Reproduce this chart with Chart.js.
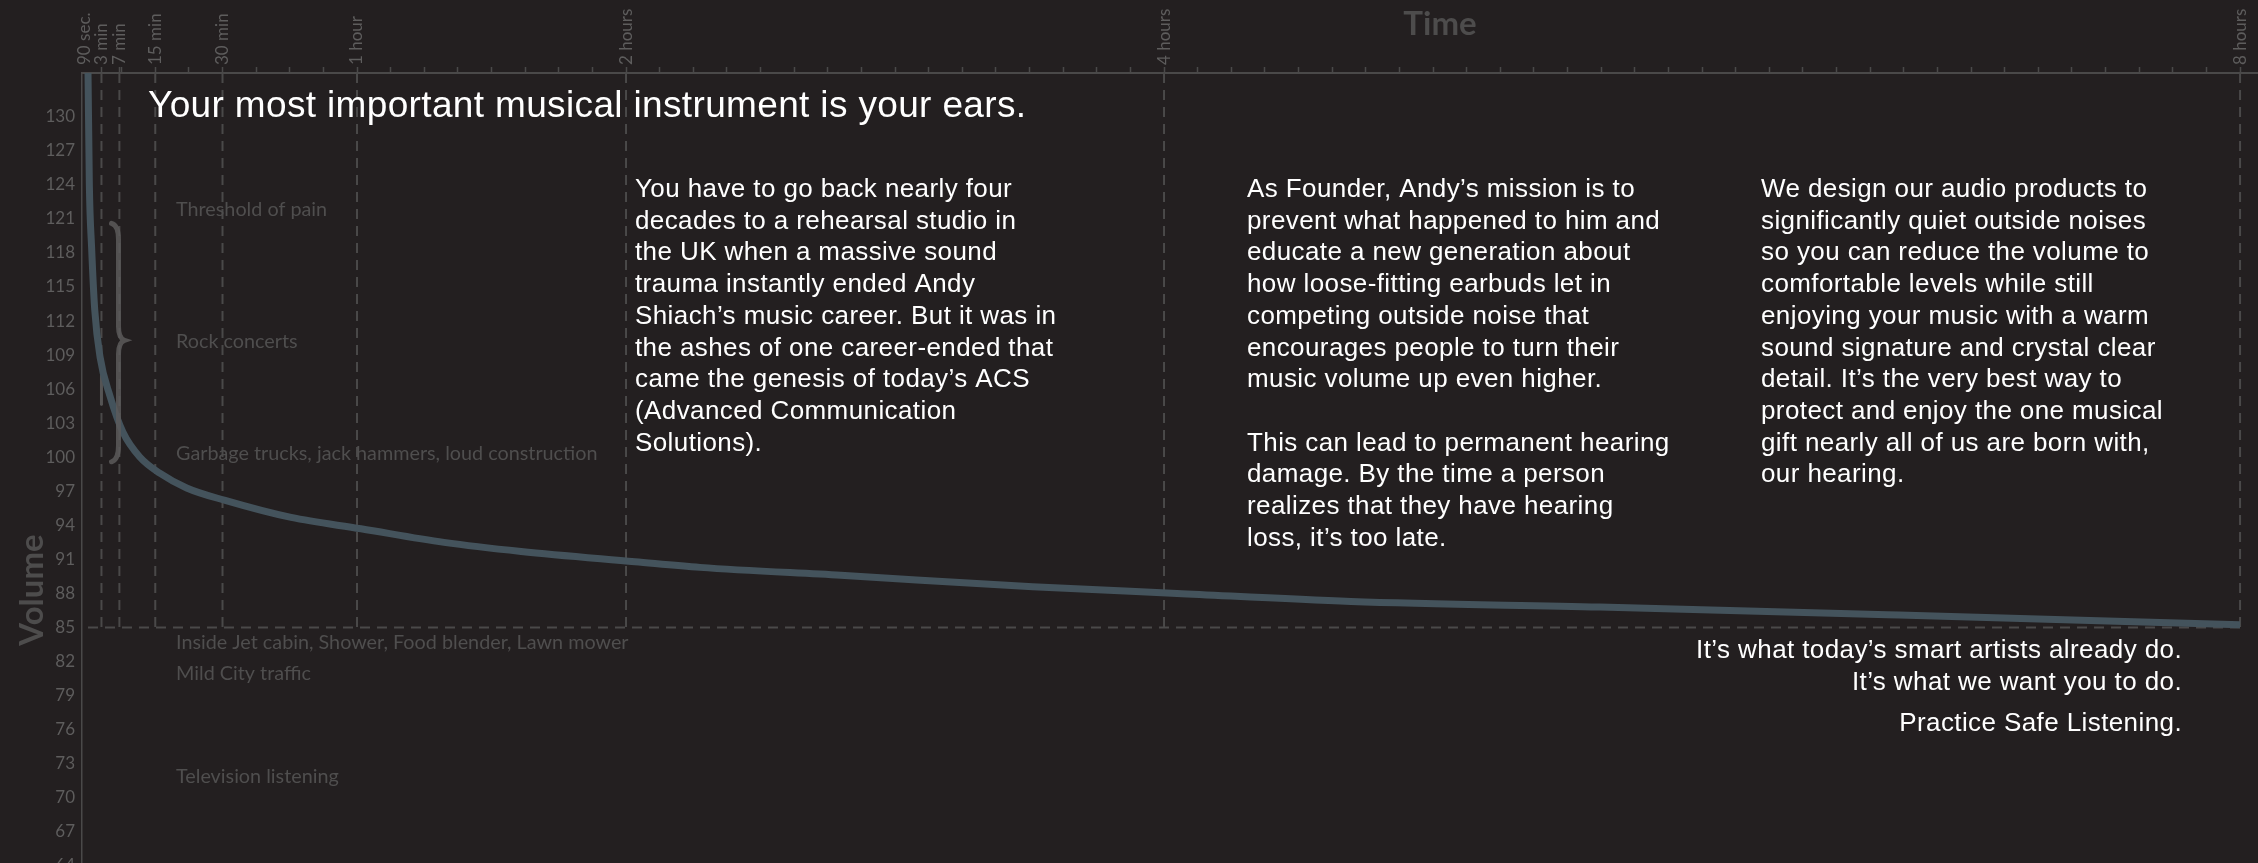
<!DOCTYPE html>
<html>
<head>
<meta charset="utf-8">
<title>Practice Safe Listening</title>
<script src="https://cdn.jsdelivr.net/npm/chart.js@4.4.1/dist/chart.umd.min.js"></script>
<style>
    html, body { margin: 0; padding: 0; background: #231f20; overflow: hidden; }
    #wrap { position: relative; width: 2258px; height: 863px; overflow: hidden; }
</style>
</head>
<body>
<div id="wrap"><canvas id="chart" width="2258" height="900"></canvas></div>
<script>
// Safe listening curve: minutes of exposure vs volume (dB)
const curveMinutes = [0, 0.3, 0.8, 1.5, 2.7, 4.9, 7.8, 11.6, 16, 22, 30.6, 45.3, 60.9, 79.4, 96.6, 122, 136.5, 167.9, 210.7, 242.9, 281.7, 337.2, 404, 480];
const curveVolume  = [134, 124, 118.5, 113, 108.8, 105.4, 102.2, 100.0, 98.6, 97.3, 96.2, 94.7, 93.7, 92.5, 91.7, 90.8, 90.3, 89.6, 88.6, 88.0, 87.3, 86.8, 86.1, 85.25];

// Time markers on the top axis
const markerMinutes = [3, 7, 15, 30, 60, 120, 240, 480];
const markerLabels = [['90 sec.', '3 min'], '7 min', '15 min', '30 min', '1 hour', '2 hours', '4 hours', '8 hours'];
const minorStep = 7.5;

// Volume axis
const volumeTicks = [64, 67, 70, 73, 76, 79, 82, 85, 88, 91, 94, 97, 100, 103, 106, 109, 112, 115, 118, 121, 124, 127, 130];
const safeVolume = 85;

// Everyday noise levels
const levelNames = ['Threshold of pain', 'Rock concerts', 'Garbage trucks, jack hammers, loud construction',
    'Inside Jet cabin, Shower, Food blender, Lawn mower', 'Mild City traffic', 'Television listening'];
const levelVolume = [121.8, 110.2, 100.3, 83.7, 80.9, 71.9];

// Copy
const headline = 'Your most important musical instrument is your ears.';
const column1 = [
    'You have to go back nearly four',
    'decades to a rehearsal studio in',
    'the UK when a massive sound',
    'trauma instantly ended Andy',
    'Shiach’s music career. But it was in',
    'the ashes of one career-ended that',
    'came the genesis of today’s ACS',
    '(Advanced Communication',
    'Solutions).'
];
const column2 = [
    'As Founder, Andy’s mission is to',
    'prevent what happened to him and',
    'educate a new generation about',
    'how loose-fitting earbuds let in',
    'competing outside noise that',
    'encourages people to turn their',
    'music volume up even higher.',
    '',
    'This can lead to permanent hearing',
    'damage. By the time a person',
    'realizes that they have hearing',
    'loss, it’s too late.'
];
const column3 = [
    'We design our audio products to',
    'significantly quiet outside noises',
    'so you can reduce the volume to',
    'comfortable levels while still',
    'enjoying your music with a warm',
    'sound signature and crystal clear',
    'detail. It’s the very best way to',
    'protect and enjoy the one musical',
    'gift nearly all of us are born with,',
    'our hearing.'
];
const closing = ['It’s what today’s smart artists already do.', 'It’s what we want you to do.'];
const slogan = 'Practice Safe Listening.';

const X_MIN = -1.34;
const X_MAX = 484;
const Y_MIN = 61;
const Y_MAX = 133.85;

const GRID = '#4a4949';
const TICK_TEXT = '#5e5d5d';
const LABEL_TEXT = '#4f4e4e';
const CURVE = '#44535c';
const sans = '"Liberation Sans", Arial, sans-serif';
const soft = 'Lato, "Open Sans", sans-serif';
const TICK_FONT = 17;

// tick positions: labelled markers plus minor marks every 7.5 min
const tickValues = markerMinutes.slice();
for (let m = minorStep; m < 480; m += minorStep) {
    if (!markerMinutes.includes(m)) tickValues.push(m);
}
tickValues.sort((a, b) => a - b);

const datasets = [{
    label: 'Safe exposure',
    data: curveMinutes.map((m, i) => ({ x: m, y: curveVolume[i] })),
    borderColor: CURVE,
    borderWidth: 7,
    pointRadius: 0,
    cubicInterpolationMode: 'monotone',
    order: 0
}];

markerMinutes.forEach(m => {
    datasets.push({
        label: 'marker ' + m,
        data: [{ x: m, y: Y_MAX }, { x: m, y: safeVolume }],
        borderColor: GRID,
        borderWidth: 2,
        borderDash: [10, 7],
        pointRadius: 0,
        order: 2
    });
});

datasets.push({
    label: '85 dB',
    data: [{ x: 0, y: safeVolume }, { x: 480, y: safeVolume }],
    borderColor: GRID,
    borderWidth: 2,
    borderDash: [10, 7],
    pointRadius: 0,
    order: 2
});

datasets.push({
    label: 'highlight',
    data: [{ x: 3, y: 107.3 }, { x: 3, y: 104.6 }],
    borderColor: '#555454',
    borderWidth: 3,
    pointRadius: 0,
    order: 1
});

function drawLines(ctx, lines, x, y, step) {
    lines.forEach((line, i) => ctx.fillText(line, x, y + i * step));
}

const decor = {
    id: 'decor',
    afterDatasetsDraw(chart) {
        const { ctx, scales: { x, y } } = chart;
        // curly brace around the loud range
        const sx = x.getPixelForValue(3) + (x.getPixelForValue(7) - x.getPixelForValue(3)) * 0.95;
        const top = y.getPixelForValue(120.6);
        const mid = y.getPixelForValue(110.3);
        const bot = y.getPixelForValue(99.6);
        ctx.save();
        ctx.strokeStyle = 'rgba(92, 91, 91, 0.85)';
        ctx.lineWidth = 5;
        ctx.lineCap = 'round';
        ctx.beginPath();
        ctx.moveTo(sx - 7, top);
        ctx.quadraticCurveTo(sx, top + 2, sx, top + 16);
        ctx.lineTo(sx, mid - 14);
        ctx.quadraticCurveTo(sx, mid - 2, sx + 6, mid);
        ctx.quadraticCurveTo(sx, mid + 2, sx, mid + 14);
        ctx.lineTo(sx, bot - 16);
        ctx.quadraticCurveTo(sx, bot - 2, sx - 7, bot);
        ctx.stroke();
        ctx.restore();
    },
    afterDraw(chart) {
        const { ctx, chartArea, scales: { y } } = chart;
        ctx.save();

        // noise level labels
        ctx.fillStyle = LABEL_TEXT;
        ctx.font = '19.8px ' + soft;
        ctx.textBaseline = 'middle';
        ctx.textAlign = 'left';
        levelNames.forEach((name, i) => {
            ctx.fillText(name, chartArea.left + 94, y.getPixelForValue(levelVolume[i]));
        });

        // axis titles
        ctx.fillStyle = '#4d4c4c';
        ctx.font = 'bold 33px ' + soft;
        ctx.textAlign = 'center';
        ctx.fillText('Time', 1440, 24);
        ctx.save();
        ctx.translate(32, 590);
        ctx.rotate(-Math.PI / 2);
        ctx.fillText('Volume', 0, 0);
        ctx.restore();

        // headline and copy
        ctx.fillStyle = '#ffffff';
        ctx.textAlign = 'left';
        ctx.textBaseline = 'alphabetic';
        ctx.letterSpacing = '0.35px';
        ctx.font = '37px ' + sans;
        ctx.fillText(headline, 148, 117);

        ctx.letterSpacing = '0.4px';
        ctx.font = '26px ' + sans;
        drawLines(ctx, column1, 635, 197, 31.7);
        drawLines(ctx, column2, 1247, 197, 31.7);
        drawLines(ctx, column3, 1761, 197, 31.7);

        ctx.textAlign = 'right';
        drawLines(ctx, closing, 2182, 658, 31.7);
        ctx.fillText(slogan, 2182, 731);
        ctx.restore();
    }
};

new Chart(document.getElementById('chart'), {
    type: 'line',
    data: { datasets },
    options: {
        responsive: false,
        animation: false,
        layout: { padding: 0 },
        plugins: {
            legend: { display: false },
            tooltip: { enabled: false }
        },
        scales: {
            x: {
                type: 'linear',
                position: 'top',
                min: X_MIN,
                max: X_MAX,
                afterBuildTicks: scale => {
                    scale.ticks = tickValues.map(v => ({ value: v }));
                },
                afterFit: scale => {
                    scale.height = 73;
                    scale.paddingLeft = 0;
                    scale.paddingRight = 0;
                },
                border: { display: true, color: GRID, width: 2 },
                grid: {
                    drawOnChartArea: false,
                    drawTicks: true,
                    tickLength: 6,
                    tickColor: GRID,
                    tickWidth: 1.5
                },
                ticks: {
                    autoSkip: false,
                    minRotation: 90,
                    maxRotation: 90,
                    padding: 2,
                    labelOffset: TICK_FONT,
                    color: TICK_TEXT,
                    font: { family: soft, size: TICK_FONT, lineHeight: 1 },
                    callback: value => {
                        const i = markerMinutes.indexOf(value);
                        return i >= 0 ? markerLabels[i] : '';
                    }
                }
            },
            y: {
                type: 'linear',
                min: Y_MIN,
                max: Y_MAX,
                afterBuildTicks: scale => {
                    scale.ticks = volumeTicks.map(v => ({ value: v }));
                },
                afterFit: scale => {
                    scale.width = 82;
                    scale.paddingTop = 0;
                    scale.paddingBottom = 0;
                },
                border: { display: true, color: GRID, width: 1.5 },
                grid: { display: false, drawTicks: false },
                ticks: {
                    padding: 7,
                    color: TICK_TEXT,
                    font: { family: soft, size: 17 }
                }
            }
        }
    },
    plugins: [decor]
});
</script>
</body>
</html>
